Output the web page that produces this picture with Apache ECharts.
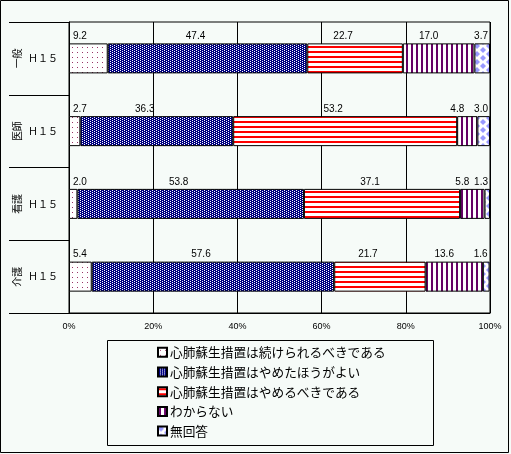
<!DOCTYPE html>
<html>
<head>
<meta charset="utf-8">
<script src="https://cdn.jsdelivr.net/npm/echarts@6/dist/echarts.min.js"></script>
<style>
  html, body { margin: 0; padding: 0; background: #f6fbf8; }
  #chart { width: 511px; height: 454px; }
</style>
</head>
<body>
<div id="chart"></div>
<script>
// groups (top to bottom) and the year label shown beside each bar
const groups = ['一般', '医師', '看護', '介護']
const yearLabel = 'Ｈ１５'

const seriesNames = [
    '心肺蘇生措置は続けられるべきである',
    '心肺蘇生措置はやめたほうがよい',
    '心肺蘇生措置はやめるべきである',
    'わからない',
    '無回答'
]

// percentages per group, in the order of groups
const keepGoing = [9.2, 2.7, 2.0, 5.4]
const betterStop = [47.4, 36.3, 53.8, 57.6]
const shouldStop = [22.7, 53.2, 37.1, 21.7]
const dontKnow = [17.0, 4.8, 5.8, 13.6]
const noAnswer = [3.7, 3.0, 1.3, 1.6]

const xMax = 100
const xStep = 20

function tile(w, h, draw) {
    const c = document.createElement('canvas')
    c.width = w
    c.height = h
    const g = c.getContext('2d')
    g.fillStyle = '#ffffff'
    g.fillRect(0, 0, w, h)
    draw(g)
    return { image: c, repeat: 'repeat' }
}

const dotFill = tile(5, 5, g => {
    g.fillStyle = '#993366'
    g.fillRect(2, 2, 1, 1)
})
// navy with staggered white pixels
const checkFill = tile(4, 2, g => {
    g.fillStyle = '#000080'
    g.fillRect(0, 0, 4, 2)
    g.fillStyle = '#ffffff'
    g.fillRect(0, 0, 1, 1)
    g.fillRect(2, 1, 1, 1)
})
const hLineFill = tile(4, 5, g => {
    g.fillStyle = '#ff0000'
    g.fillRect(0, 1, 4, 2)
})
const vLineFill = tile(5, 4, g => {
    g.fillStyle = '#660066'
    g.fillRect(1, 0, 2, 4)
})
const diamondFill = tile(12, 8, g => {
    g.fillStyle = '#9999ff'
    const diamond = (cx, cy) => {
        g.beginPath()
        g.moveTo(cx, cy - 3)
        g.lineTo(cx + 3, cy)
        g.lineTo(cx, cy + 3)
        g.lineTo(cx - 3, cy)
        g.closePath()
        g.fill()
    }
    diamond(3, 2)
    diamond(9, 6)
    diamond(-3, 6)
    diamond(15, 2)
    diamond(3, 10)
    diamond(9, -2)
})

const fills = [dotFill, checkFill, hLineFill, vLineFill, diamondFill]
const values = [keepGoing, betterStop, shouldStop, dontKnow, noAnswer]

// where each series' value label sits relative to its bar piece
const labelPlace = [
    { position: ['0%', 0], align: 'left', offset: [4, -2] },
    { position: 'top', align: 'center', offset: [-12, 0] },
    { position: 'top', align: 'center', offset: [-12, 0] },
    { position: 'top', align: 'center', offset: [-10, 0] },
    { position: ['100%', 0], align: 'right', offset: [-2, -2] }
]

const numFont = 'Liberation Sans'
const cjkFont = '"Noto Sans CJK JP"'

const chart = echarts.init(document.getElementById('chart'))
chart.setOption({
    animation: false,
    backgroundColor: '#f6fbf8',
    grid: {
        left: 69,
        right: 21,
        top: 22,
        bottom: 141,
        show: true,
        borderColor: '#000',
        borderWidth: 1,
        backgroundColor: 'transparent'
    },
    legend: {
        orient: 'vertical',
        left: 152,
        top: 341,
        itemWidth: 9,
        itemHeight: 9,
        itemGap: 7,
        icon: 'rect',
        selectedMode: false,
        textStyle: { fontFamily: cjkFont, fontSize: 12.7, color: '#000', padding: [0, 0, 0, -2] },
        data: seriesNames
    },
    xAxis: {
        type: 'value',
        min: 0,
        max: xMax,
        interval: xStep,
        axisLine: { show: true, lineStyle: { color: '#000' } },
        axisTick: { show: false },
        splitLine: { show: true, lineStyle: { color: '#000', width: 1 } },
        axisLabel: {
            formatter: '{value}%',
            fontFamily: numFont,
            fontSize: 9,
            color: '#000',
            margin: 9
        }
    },
    yAxis: [
        {
            type: 'category',
            data: groups,
            inverse: true,
            axisLine: { show: true, lineStyle: { color: '#000' } },
            axisTick: { show: true, length: 60, lineStyle: { color: '#000' } },
            axisLabel: {
                formatter: () => yearLabel,
                fontFamily: cjkFont,
                fontSize: 10,
                color: '#000',
                margin: 11
            }
        },
        {
            type: 'category',
            data: groups,
            inverse: true,
            position: 'left',
            axisLine: { show: false },
            axisTick: { show: false },
            axisLabel: {
                rotate: 90,
                fontFamily: cjkFont,
                fontSize: 10,
                color: '#000',
                margin: 47
            }
        }
    ],
    graphic: [
        {
            type: 'rect',
            shape: { x: 0.5, y: 0.5, width: 508, height: 452 },
            style: { fill: 'none', stroke: '#000', lineWidth: 1 },
            silent: true
        },
        {
            type: 'rect',
            shape: { x: 107.5, y: 340.5, width: 326, height: 105 },
            style: { fill: 'none', stroke: '#000', lineWidth: 1 },
            silent: true
        }
    ],
    series: seriesNames.map((name, i) => ({
        name: name,
        type: 'bar',
        stack: 'total',
        barWidth: 30,
        data: values[i],
        itemStyle: {
            color: fills[i],
            borderColor: '#000',
            borderWidth: 1
        },
        label: {
            show: true,
            position: labelPlace[i].position,
            align: labelPlace[i].align,
            verticalAlign: 'bottom',
            offset: labelPlace[i].offset,
            distance: 2,
            formatter: p => p.value.toFixed(1),
            fontFamily: numFont,
            fontSize: 10,
            color: '#000'
        }
    }))
})
</script>
</body>
</html>
